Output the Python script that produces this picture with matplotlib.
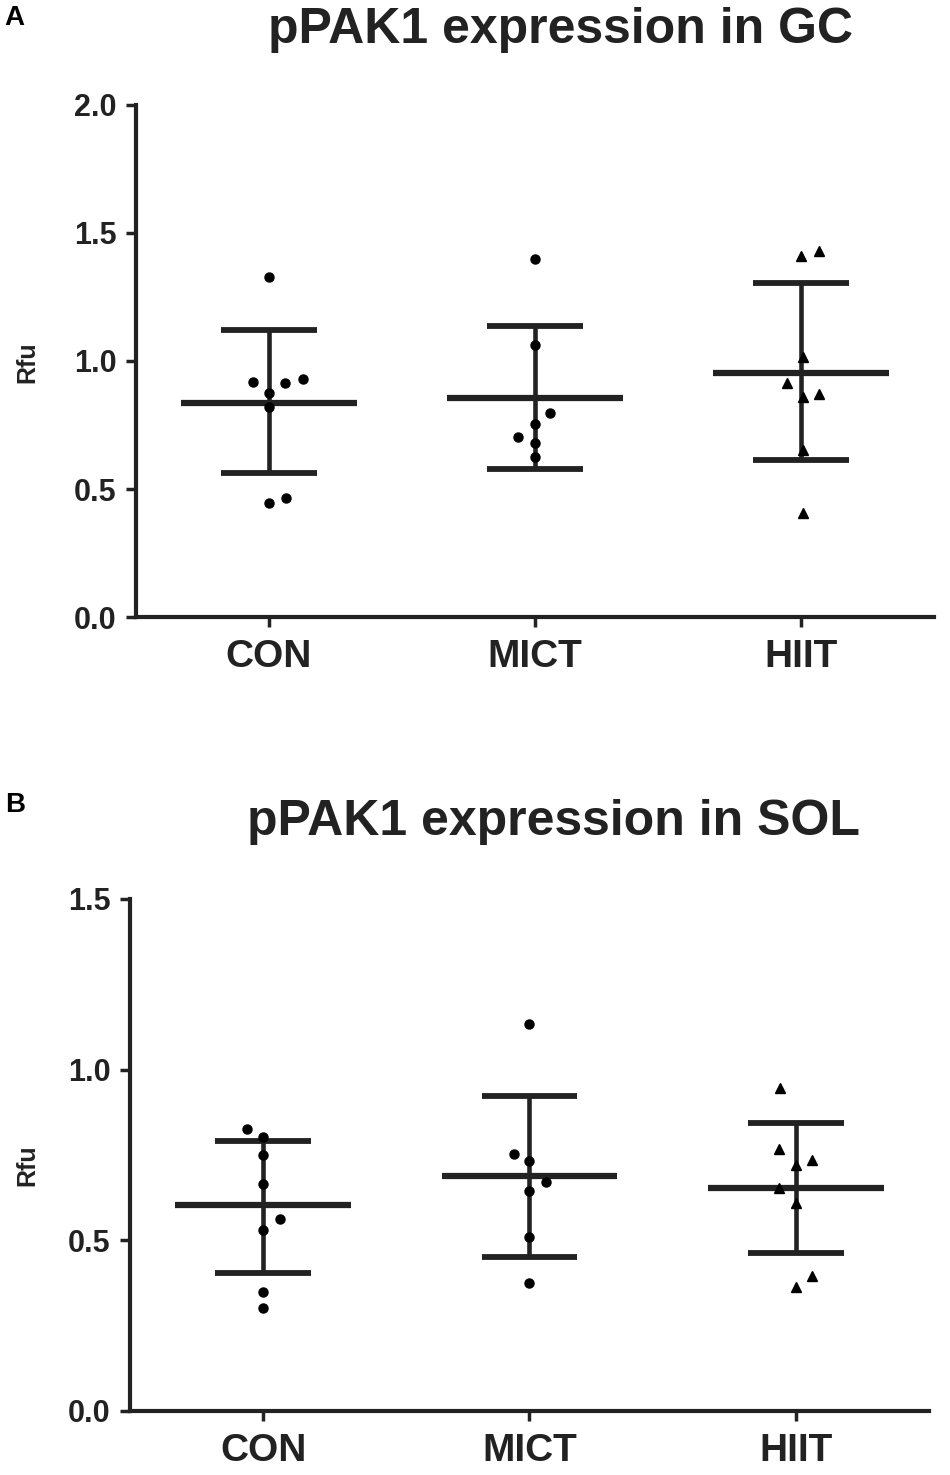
import matplotlib
matplotlib.use("Agg")
import matplotlib.pyplot as plt
import numpy as np

plt.rcParams['font.family'] = ['Liberation Sans', 'DejaVu Sans']
plt.rcParams['font.weight'] = 'bold'

categories = ["CON", "MICT", "HIIT"]

# Panel A: pPAK1 expression in GC
gc_con = [1.329, 0.919, 0.913, 0.928, 0.874, 0.822, 0.444, 0.464]
gc_mict = [1.397, 1.062, 0.798, 0.754, 0.702, 0.681, 0.626]
gc_hiit = [1.410, 1.431, 1.017, 0.913, 0.861, 0.871, 0.652, 0.405]
gc_mean = [0.835, 0.854, 0.952]
gc_upper = [1.121, 1.137, 1.306]
gc_lower = [0.561, 0.577, 0.613]

# Panel B: pPAK1 expression in SOL
sol_con = [0.825, 0.802, 0.750, 0.665, 0.562, 0.530, 0.350, 0.301]
sol_mict = [1.134, 0.753, 0.733, 0.672, 0.645, 0.509, 0.376]
sol_hiit = [0.945, 0.767, 0.735, 0.721, 0.652, 0.608, 0.396, 0.362]
sol_mean = [0.604, 0.689, 0.652]
sol_upper = [0.792, 0.923, 0.845]
sol_lower = [0.403, 0.452, 0.462]

# horizontal jitter of points (category units)
gc_con_dx = [0.0, -0.06, 0.059, 0.127, 0.0, 0.0, 0.0, 0.065]
gc_mict_dx = [0.0, 0.0, 0.056, 0.0, -0.065, 0.0, 0.0]
gc_hiit_dx = [0.0, 0.067, 0.007, -0.052, 0.006, 0.067, 0.007, 0.006]
sol_con_dx = [-0.06, 0.0, 0.0, 0.0, 0.062, 0.0, 0.0, 0.0]
sol_mict_dx = [0.0, -0.06, 0.0, 0.063, 0.0, 0.0, 0.0]
sol_hiit_dx = [-0.06, -0.063, 0.059, 0.0, -0.063, 0.0, 0.059, 0.0]

fig = plt.figure(figsize=(9.5, 14.75), dpi=100)

def draw_panel(ax, groups, dxs, means, uppers, lowers, ymax, yticks):
    markers = ['o', 'o', '^']
    for i, (vals, dx) in enumerate(zip(groups, dxs)):
        xs = np.full(len(vals), float(i)) + np.array(dx)
        ax.plot(xs, vals, linestyle='none', marker=markers[i], color='black',
                markersize=6.5, zorder=3)
        ax.hlines(means[i], i - 0.33, i + 0.33, color='#222222', lw=4.5, zorder=2)
        ax.vlines(i, lowers[i], uppers[i], color='#222222', lw=3.3, zorder=2)
        ax.hlines([lowers[i], uppers[i]], i - 0.18, i + 0.18, color='#222222', lw=4.2, zorder=2)
    ax.set_xlim(-0.5, 2.5)
    ax.set_ylim(0, ymax)
    ax.set_yticks(yticks)
    ax.set_yticklabels([f"{t:.1f}" for t in yticks])
    ax.set_xticks(range(len(categories)))
    ax.set_xticklabels(categories, fontsize=28, fontweight='bold')
    for s in ['top', 'right']:
        ax.spines[s].set_visible(False)
    for s in ['left', 'bottom']:
        ax.spines[s].set_linewidth(3.0)
        ax.spines[s].set_color('#222222')
    ax.tick_params(axis='y', length=7, width=2.5, labelsize=22, pad=7, colors='#222222')
    ax.tick_params(axis='x', length=7, width=2.5, pad=9, colors='#222222')
    for lab in ax.get_yticklabels():
        lab.set_fontweight('bold')

axA = fig.add_axes([0.1432, 1 - 617 / 1475, 0.9832 - 0.1432, (617 - 105) / 1475])
draw_panel(axA, [gc_con, gc_mict, gc_hiit], [gc_con_dx, gc_mict_dx, gc_hiit_dx],
           gc_mean, gc_upper, gc_lower, 2.0, [0.0, 0.5, 1.0, 1.5, 2.0])

axB = fig.add_axes([0.1368, 1 - 1411 / 1475, 0.9779 - 0.1368, (1411 - 899) / 1475])
draw_panel(axB, [sol_con, sol_mict, sol_hiit], [sol_con_dx, sol_mict_dx, sol_hiit_dx],
           sol_mean, sol_upper, sol_lower, 1.5, [0.0, 0.5, 1.0, 1.5])

fig.text(0.59, 1 - 30 / 1475, "pPAK1 expression in GC", ha='center', va='center',
         fontsize=36, fontweight='bold', color='#222222')
fig.text(0.583, 1 - 822 / 1475, "pPAK1 expression in SOL", ha='center', va='center',
         fontsize=36, fontweight='bold', color='#222222')
fig.text(0.029, 1 - 362 / 1475, "Rfu", rotation=90, ha='center', va='center',
         fontsize=18, fontweight='bold', color='#222222')
fig.text(0.029, 1 - 1165 / 1475, "Rfu", rotation=90, ha='center', va='center',
         fontsize=18, fontweight='bold', color='#222222')
fig.text(0.005, 1 - 18 / 1475, "A", ha='left', va='center', fontsize=20, fontweight='bold')
fig.text(0.005, 1 - 805 / 1475, "B", ha='left', va='center', fontsize=20, fontweight='bold')

fig.savefig("out.png", dpi=100, facecolor='white')
